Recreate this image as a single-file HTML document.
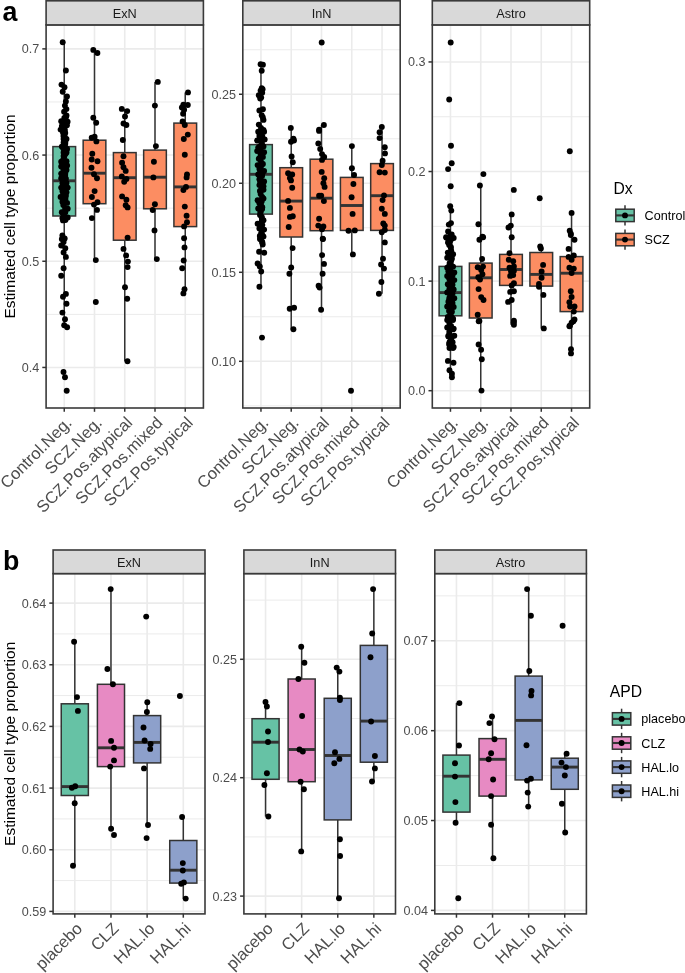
<!DOCTYPE html><html><head><meta charset="utf-8"><style>html,body{margin:0;padding:0;background:#fff;}svg{display:block;will-change:transform;}</style></head><body><svg width="685" height="973" viewBox="0 0 685 973">
<rect width="685" height="973" fill="#fff"/>
<line x1="46.1" x2="203.4" y1="314.36" y2="314.36" stroke="#ebebeb" stroke-width="1.0"/>
<line x1="46.1" x2="203.4" y1="208.16" y2="208.16" stroke="#ebebeb" stroke-width="1.0"/>
<line x1="46.1" x2="203.4" y1="101.97" y2="101.97" stroke="#ebebeb" stroke-width="1.0"/>
<line x1="46.1" x2="203.4" y1="367.45" y2="367.45" stroke="#ebebeb" stroke-width="1.6"/>
<line x1="46.1" x2="203.4" y1="261.26" y2="261.26" stroke="#ebebeb" stroke-width="1.6"/>
<line x1="46.1" x2="203.4" y1="155.07" y2="155.07" stroke="#ebebeb" stroke-width="1.6"/>
<line x1="46.1" x2="203.4" y1="48.88" y2="48.88" stroke="#ebebeb" stroke-width="1.6"/>
<line x1="64.25" x2="64.25" y1="24.9" y2="408.0" stroke="#ebebeb" stroke-width="1.6"/>
<line x1="94.50" x2="94.50" y1="24.9" y2="408.0" stroke="#ebebeb" stroke-width="1.6"/>
<line x1="124.75" x2="124.75" y1="24.9" y2="408.0" stroke="#ebebeb" stroke-width="1.6"/>
<line x1="155.00" x2="155.00" y1="24.9" y2="408.0" stroke="#ebebeb" stroke-width="1.6"/>
<line x1="185.25" x2="185.25" y1="24.9" y2="408.0" stroke="#ebebeb" stroke-width="1.6"/>
<line x1="64.25" x2="64.25" y1="42.3" y2="146.6" stroke="#333333" stroke-width="1.5"/>
<line x1="64.25" x2="64.25" y1="216.0" y2="327.0" stroke="#333333" stroke-width="1.5"/>
<rect x="52.91" y="146.6" width="22.69" height="69.40" fill="#66c2a5" stroke="#333333" stroke-width="1.5"/>
<line x1="52.91" x2="75.59" y1="180.8" y2="180.8" stroke="#333333" stroke-width="2.9"/>
<line x1="94.50" x2="94.50" y1="49.9" y2="140.2" stroke="#333333" stroke-width="1.5"/>
<line x1="94.50" x2="94.50" y1="203.7" y2="260.1" stroke="#333333" stroke-width="1.5"/>
<rect x="83.16" y="140.2" width="22.69" height="63.50" fill="#fc8d62" stroke="#333333" stroke-width="1.5"/>
<line x1="83.16" x2="105.84" y1="173.2" y2="173.2" stroke="#333333" stroke-width="2.9"/>
<line x1="124.75" x2="124.75" y1="108.9" y2="152.6" stroke="#333333" stroke-width="1.5"/>
<line x1="124.75" x2="124.75" y1="240.2" y2="361.2" stroke="#333333" stroke-width="1.5"/>
<rect x="113.41" y="152.6" width="22.69" height="87.60" fill="#fc8d62" stroke="#333333" stroke-width="1.5"/>
<line x1="113.41" x2="136.09" y1="177.7" y2="177.7" stroke="#333333" stroke-width="2.9"/>
<line x1="155.00" x2="155.00" y1="81.9" y2="150.1" stroke="#333333" stroke-width="1.5"/>
<line x1="155.00" x2="155.00" y1="208.8" y2="259.1" stroke="#333333" stroke-width="1.5"/>
<rect x="143.66" y="150.1" width="22.69" height="58.70" fill="#fc8d62" stroke="#333333" stroke-width="1.5"/>
<line x1="143.66" x2="166.34" y1="177.2" y2="177.2" stroke="#333333" stroke-width="2.9"/>
<line x1="185.25" x2="185.25" y1="92.4" y2="123.1" stroke="#333333" stroke-width="1.5"/>
<line x1="185.25" x2="185.25" y1="226.6" y2="293.4" stroke="#333333" stroke-width="1.5"/>
<rect x="173.91" y="123.1" width="22.69" height="103.50" fill="#fc8d62" stroke="#333333" stroke-width="1.5"/>
<line x1="173.91" x2="196.59" y1="186.9" y2="186.9" stroke="#333333" stroke-width="2.9"/>
<circle cx="62.7" cy="42.3" r="2.95"/>
<circle cx="65.9" cy="70.5" r="2.95"/>
<circle cx="61.5" cy="84.6" r="2.95"/>
<circle cx="64.5" cy="87.2" r="2.95"/>
<circle cx="62.7" cy="91.8" r="2.95"/>
<circle cx="67.0" cy="96.5" r="2.95"/>
<circle cx="65.9" cy="101.5" r="2.95"/>
<circle cx="64.9" cy="105.6" r="2.95"/>
<circle cx="66.4" cy="109.1" r="2.95"/>
<circle cx="64.1" cy="111.8" r="2.95"/>
<circle cx="65.9" cy="117.3" r="2.95"/>
<circle cx="66.5" cy="115.5" r="2.95"/>
<circle cx="61.2" cy="121.3" r="2.95"/>
<circle cx="67.6" cy="121.8" r="2.95"/>
<circle cx="61.8" cy="126.1" r="2.95"/>
<circle cx="66.9" cy="125.3" r="2.95"/>
<circle cx="60.6" cy="129.6" r="2.95"/>
<circle cx="63" cy="132.6" r="2.95"/>
<circle cx="64.7" cy="136.7" r="2.95"/>
<circle cx="66.5" cy="139" r="2.95"/>
<circle cx="63.6" cy="142.5" r="2.95"/>
<circle cx="65.3" cy="143.7" r="2.95"/>
<circle cx="61.8" cy="146.6" r="2.95"/>
<circle cx="67.1" cy="149" r="2.95"/>
<circle cx="63.6" cy="152.5" r="2.95"/>
<circle cx="66.5" cy="152.5" r="2.95"/>
<circle cx="63.6" cy="156" r="2.95"/>
<circle cx="61.2" cy="161.8" r="2.95"/>
<circle cx="66.5" cy="161.3" r="2.95"/>
<circle cx="61.2" cy="166.5" r="2.95"/>
<circle cx="67.1" cy="165.4" r="2.95"/>
<circle cx="63.6" cy="170" r="2.95"/>
<circle cx="66.5" cy="170" r="2.95"/>
<circle cx="61.2" cy="173.6" r="2.95"/>
<circle cx="65.3" cy="173" r="2.95"/>
<circle cx="61.2" cy="178.3" r="2.95"/>
<circle cx="65.9" cy="178.8" r="2.95"/>
<circle cx="62.4" cy="183" r="2.95"/>
<circle cx="66.5" cy="183" r="2.95"/>
<circle cx="61.2" cy="187.6" r="2.95"/>
<circle cx="67.7" cy="187.6" r="2.95"/>
<circle cx="62.4" cy="191.1" r="2.95"/>
<circle cx="66.5" cy="192.3" r="2.95"/>
<circle cx="60.6" cy="197" r="2.95"/>
<circle cx="65.9" cy="195.8" r="2.95"/>
<circle cx="62.4" cy="201.7" r="2.95"/>
<circle cx="67.1" cy="202.9" r="2.95"/>
<circle cx="67.7" cy="208.7" r="2.95"/>
<circle cx="61.8" cy="212.2" r="2.95"/>
<circle cx="65.3" cy="212.2" r="2.95"/>
<circle cx="62.4" cy="218.1" r="2.95"/>
<circle cx="67.7" cy="217.5" r="2.95"/>
<circle cx="63" cy="220.4" r="2.95"/>
<circle cx="62.4" cy="235.5" r="2.95"/>
<circle cx="64.7" cy="238.5" r="2.95"/>
<circle cx="61.8" cy="239.1" r="2.95"/>
<circle cx="63.6" cy="242" r="2.95"/>
<circle cx="61.2" cy="245.5" r="2.95"/>
<circle cx="65.3" cy="248.2" r="2.95"/>
<circle cx="63.6" cy="252.5" r="2.95"/>
<circle cx="65.9" cy="256.9" r="2.95"/>
<circle cx="63.6" cy="268.3" r="2.95"/>
<circle cx="61.2" cy="275.7" r="2.95"/>
<circle cx="65.9" cy="293.9" r="2.95"/>
<circle cx="63" cy="296.7" r="2.95"/>
<circle cx="66.5" cy="303.7" r="2.95"/>
<circle cx="62.4" cy="312.6" r="2.95"/>
<circle cx="65" cy="319.3" r="2.95"/>
<circle cx="64.2" cy="325.2" r="2.95"/>
<circle cx="67.1" cy="327.2" r="2.95"/>
<circle cx="63.5" cy="372" r="2.95"/>
<circle cx="65" cy="377.3" r="2.95"/>
<circle cx="66.7" cy="390.7" r="2.95"/>
<circle cx="93.3" cy="49.9" r="2.95"/>
<circle cx="97.4" cy="53.0" r="2.95"/>
<circle cx="93.3" cy="117.8" r="2.95"/>
<circle cx="96.2" cy="122.8" r="2.95"/>
<circle cx="91.7" cy="137.8" r="2.95"/>
<circle cx="94.6" cy="136.7" r="2.95"/>
<circle cx="96.4" cy="141.4" r="2.95"/>
<circle cx="92.3" cy="153.7" r="2.95"/>
<circle cx="91.7" cy="159.5" r="2.95"/>
<circle cx="97.5" cy="161.3" r="2.95"/>
<circle cx="91.5" cy="167.7" r="2.95"/>
<circle cx="94" cy="174.2" r="2.95"/>
<circle cx="97" cy="178.3" r="2.95"/>
<circle cx="94.6" cy="191.1" r="2.95"/>
<circle cx="91.9" cy="197" r="2.95"/>
<circle cx="94" cy="204.6" r="2.95"/>
<circle cx="97.5" cy="202.3" r="2.95"/>
<circle cx="97" cy="209.9" r="2.95"/>
<circle cx="91.9" cy="218.1" r="2.95"/>
<circle cx="95.8" cy="260.1" r="2.95"/>
<circle cx="95.8" cy="302" r="2.95"/>
<circle cx="121.8" cy="108.9" r="2.95"/>
<circle cx="127.2" cy="111.1" r="2.95"/>
<circle cx="125" cy="116.5" r="2.95"/>
<circle cx="123.5" cy="123.5" r="2.95"/>
<circle cx="126.4" cy="125" r="2.95"/>
<circle cx="122.8" cy="140" r="2.95"/>
<circle cx="123.5" cy="156.3" r="2.95"/>
<circle cx="122.1" cy="162.8" r="2.95"/>
<circle cx="123.5" cy="167.2" r="2.95"/>
<circle cx="125.7" cy="170.9" r="2.95"/>
<circle cx="121.8" cy="176.4" r="2.95"/>
<circle cx="126.4" cy="178.9" r="2.95"/>
<circle cx="124.2" cy="181.8" r="2.95"/>
<circle cx="122.1" cy="196.4" r="2.95"/>
<circle cx="126.4" cy="199.8" r="2.95"/>
<circle cx="125.7" cy="205.2" r="2.95"/>
<circle cx="127.6" cy="207.4" r="2.95"/>
<circle cx="127.6" cy="237.6" r="2.95"/>
<circle cx="123.5" cy="248.9" r="2.95"/>
<circle cx="126.1" cy="255.4" r="2.95"/>
<circle cx="127.9" cy="261.6" r="2.95"/>
<circle cx="127.6" cy="267.1" r="2.95"/>
<circle cx="125" cy="287.3" r="2.95"/>
<circle cx="127.2" cy="298.8" r="2.95"/>
<circle cx="127.5" cy="361.2" r="2.95"/>
<circle cx="157.8" cy="81.9" r="2.95"/>
<circle cx="154.9" cy="105.6" r="2.95"/>
<circle cx="155.9" cy="146.1" r="2.95"/>
<circle cx="153.9" cy="161.8" r="2.95"/>
<circle cx="153.4" cy="177.4" r="2.95"/>
<circle cx="154.9" cy="204.2" r="2.95"/>
<circle cx="152.7" cy="210" r="2.95"/>
<circle cx="154.5" cy="230.4" r="2.95"/>
<circle cx="156.8" cy="259.1" r="2.95"/>
<circle cx="188" cy="92.4" r="2.95"/>
<circle cx="183.4" cy="104.6" r="2.95"/>
<circle cx="187.8" cy="105" r="2.95"/>
<circle cx="181.9" cy="107.5" r="2.95"/>
<circle cx="184.1" cy="109.7" r="2.95"/>
<circle cx="183.1" cy="113.8" r="2.95"/>
<circle cx="182.6" cy="121.4" r="2.95"/>
<circle cx="184.8" cy="125" r="2.95"/>
<circle cx="187.8" cy="134.6" r="2.95"/>
<circle cx="183.8" cy="139" r="2.95"/>
<circle cx="184.8" cy="154.8" r="2.95"/>
<circle cx="187" cy="174.5" r="2.95"/>
<circle cx="186.6" cy="177.4" r="2.95"/>
<circle cx="186" cy="186.9" r="2.95"/>
<circle cx="183.4" cy="190.1" r="2.95"/>
<circle cx="184.8" cy="206.6" r="2.95"/>
<circle cx="186.6" cy="215.8" r="2.95"/>
<circle cx="187" cy="222.3" r="2.95"/>
<circle cx="184.1" cy="226.4" r="2.95"/>
<circle cx="184.1" cy="238.3" r="2.95"/>
<circle cx="184.5" cy="247.4" r="2.95"/>
<circle cx="183.7" cy="260.5" r="2.95"/>
<circle cx="182.2" cy="268.3" r="2.95"/>
<circle cx="184.5" cy="289.3" r="2.95"/>
<circle cx="183.4" cy="293.4" r="2.95"/>
<circle cx="64.3" cy="118" r="2.95"/>
<circle cx="65.49" cy="121.0" r="2.95"/>
<circle cx="63.99" cy="124.0" r="2.95"/>
<circle cx="63.19" cy="127.0" r="2.95"/>
<circle cx="64.89" cy="130.0" r="2.95"/>
<circle cx="65.26" cy="133.0" r="2.95"/>
<circle cx="63.46" cy="136.0" r="2.95"/>
<circle cx="63.56" cy="139.0" r="2.95"/>
<circle cx="65.33" cy="142.0" r="2.95"/>
<circle cx="64.78" cy="145.0" r="2.95"/>
<circle cx="63.15" cy="148.0" r="2.95"/>
<circle cx="64.12" cy="151.0" r="2.95"/>
<circle cx="65.5" cy="154.0" r="2.95"/>
<circle cx="64.17" cy="157.0" r="2.95"/>
<circle cx="63.13" cy="160.0" r="2.95"/>
<circle cx="64.73" cy="163.0" r="2.95"/>
<circle cx="65.36" cy="166.0" r="2.95"/>
<circle cx="63.6" cy="169.0" r="2.95"/>
<circle cx="63.43" cy="172.0" r="2.95"/>
<circle cx="65.23" cy="175.0" r="2.95"/>
<circle cx="64.93" cy="178.0" r="2.95"/>
<circle cx="63.21" cy="181.0" r="2.95"/>
<circle cx="63.95" cy="184.0" r="2.95"/>
<circle cx="65.48" cy="187.0" r="2.95"/>
<circle cx="64.35" cy="190.0" r="2.95"/>
<circle cx="63.1" cy="193.0" r="2.95"/>
<circle cx="64.56" cy="196.0" r="2.95"/>
<circle cx="65.43" cy="199.0" r="2.95"/>
<circle cx="63.75" cy="202.0" r="2.95"/>
<circle cx="63.31" cy="205.0" r="2.95"/>
<circle cx="65.1" cy="208.0" r="2.95"/>
<circle cx="65.08" cy="211.0" r="2.95"/>
<circle cx="63.29" cy="214.0" r="2.95"/>
<circle cx="63.78" cy="217.0" r="2.95"/>
<circle cx="65.44" cy="220.0" r="2.95"/>
<rect x="46.1" y="24.9" width="157.30" height="383.10" fill="none" stroke="#3a3a3a" stroke-width="1.6"/>
<rect x="46.1" y="0.8" width="157.30" height="24.10" fill="#d9d9d9" stroke="#3a3a3a" stroke-width="1.6"/>
<text x="124.75" y="17.70" font-family="Liberation Sans, sans-serif" font-size="12.7" fill="#1a1a1a" text-anchor="middle">ExN</text>
<line x1="42.30" x2="46.1" y1="367.45" y2="367.45" stroke="#333333" stroke-width="1.5"/>
<text x="39.30" y="371.95" font-family="Liberation Sans, sans-serif" font-size="12.6" fill="#4d4d4d" text-anchor="end">0.4</text>
<line x1="42.30" x2="46.1" y1="261.26" y2="261.26" stroke="#333333" stroke-width="1.5"/>
<text x="39.30" y="265.76" font-family="Liberation Sans, sans-serif" font-size="12.6" fill="#4d4d4d" text-anchor="end">0.5</text>
<line x1="42.30" x2="46.1" y1="155.07" y2="155.07" stroke="#333333" stroke-width="1.5"/>
<text x="39.30" y="159.57" font-family="Liberation Sans, sans-serif" font-size="12.6" fill="#4d4d4d" text-anchor="end">0.6</text>
<line x1="42.30" x2="46.1" y1="48.88" y2="48.88" stroke="#333333" stroke-width="1.5"/>
<text x="39.30" y="53.38" font-family="Liberation Sans, sans-serif" font-size="12.6" fill="#4d4d4d" text-anchor="end">0.7</text>
<line x1="64.25" x2="64.25" y1="408.0" y2="411.80" stroke="#333333" stroke-width="1.5"/>
<text transform="translate(72.85,423.70) rotate(-45)" font-family="Liberation Sans, sans-serif" font-size="16.6" fill="#4d4d4d" text-anchor="end">Control.Neg.</text>
<line x1="94.50" x2="94.50" y1="408.0" y2="411.80" stroke="#333333" stroke-width="1.5"/>
<text transform="translate(103.10,423.70) rotate(-45)" font-family="Liberation Sans, sans-serif" font-size="16.6" fill="#4d4d4d" text-anchor="end">SCZ.Neg.</text>
<line x1="124.75" x2="124.75" y1="408.0" y2="411.80" stroke="#333333" stroke-width="1.5"/>
<text transform="translate(133.35,423.70) rotate(-45)" font-family="Liberation Sans, sans-serif" font-size="16.6" fill="#4d4d4d" text-anchor="end">SCZ.Pos.atypical</text>
<line x1="155.00" x2="155.00" y1="408.0" y2="411.80" stroke="#333333" stroke-width="1.5"/>
<text transform="translate(163.60,423.70) rotate(-45)" font-family="Liberation Sans, sans-serif" font-size="16.6" fill="#4d4d4d" text-anchor="end">SCZ.Pos.mixed</text>
<line x1="185.25" x2="185.25" y1="408.0" y2="411.80" stroke="#333333" stroke-width="1.5"/>
<text transform="translate(193.85,423.70) rotate(-45)" font-family="Liberation Sans, sans-serif" font-size="16.6" fill="#4d4d4d" text-anchor="end">SCZ.Pos.typical</text>
<line x1="242.8" x2="400.2" y1="405.81" y2="405.81" stroke="#ebebeb" stroke-width="1.0"/>
<line x1="242.8" x2="400.2" y1="316.79" y2="316.79" stroke="#ebebeb" stroke-width="1.0"/>
<line x1="242.8" x2="400.2" y1="227.78" y2="227.78" stroke="#ebebeb" stroke-width="1.0"/>
<line x1="242.8" x2="400.2" y1="138.76" y2="138.76" stroke="#ebebeb" stroke-width="1.0"/>
<line x1="242.8" x2="400.2" y1="49.75" y2="49.75" stroke="#ebebeb" stroke-width="1.0"/>
<line x1="242.8" x2="400.2" y1="361.30" y2="361.30" stroke="#ebebeb" stroke-width="1.6"/>
<line x1="242.8" x2="400.2" y1="272.29" y2="272.29" stroke="#ebebeb" stroke-width="1.6"/>
<line x1="242.8" x2="400.2" y1="183.27" y2="183.27" stroke="#ebebeb" stroke-width="1.6"/>
<line x1="242.8" x2="400.2" y1="94.26" y2="94.26" stroke="#ebebeb" stroke-width="1.6"/>
<line x1="260.96" x2="260.96" y1="24.9" y2="408.0" stroke="#ebebeb" stroke-width="1.6"/>
<line x1="291.23" x2="291.23" y1="24.9" y2="408.0" stroke="#ebebeb" stroke-width="1.6"/>
<line x1="321.50" x2="321.50" y1="24.9" y2="408.0" stroke="#ebebeb" stroke-width="1.6"/>
<line x1="351.77" x2="351.77" y1="24.9" y2="408.0" stroke="#ebebeb" stroke-width="1.6"/>
<line x1="382.04" x2="382.04" y1="24.9" y2="408.0" stroke="#ebebeb" stroke-width="1.6"/>
<line x1="260.96" x2="260.96" y1="64.2" y2="144.6" stroke="#333333" stroke-width="1.5"/>
<line x1="260.96" x2="260.96" y1="214.1" y2="286.8" stroke="#333333" stroke-width="1.5"/>
<rect x="249.61" y="144.6" width="22.70" height="69.50" fill="#66c2a5" stroke="#333333" stroke-width="1.5"/>
<line x1="249.61" x2="272.31" y1="174.3" y2="174.3" stroke="#333333" stroke-width="2.9"/>
<line x1="291.23" x2="291.23" y1="127.9" y2="167.7" stroke="#333333" stroke-width="1.5"/>
<line x1="291.23" x2="291.23" y1="237.0" y2="329.2" stroke="#333333" stroke-width="1.5"/>
<rect x="279.88" y="167.7" width="22.70" height="69.30" fill="#fc8d62" stroke="#333333" stroke-width="1.5"/>
<line x1="279.88" x2="302.58" y1="201.1" y2="201.1" stroke="#333333" stroke-width="2.9"/>
<line x1="321.50" x2="321.50" y1="125.0" y2="159.2" stroke="#333333" stroke-width="1.5"/>
<line x1="321.50" x2="321.50" y1="230.7" y2="309.7" stroke="#333333" stroke-width="1.5"/>
<rect x="310.15" y="159.2" width="22.70" height="71.50" fill="#fc8d62" stroke="#333333" stroke-width="1.5"/>
<line x1="310.15" x2="332.85" y1="198.2" y2="198.2" stroke="#333333" stroke-width="2.9"/>
<line x1="351.77" x2="351.77" y1="146.1" y2="177.4" stroke="#333333" stroke-width="1.5"/>
<line x1="351.77" x2="351.77" y1="230.4" y2="254.4" stroke="#333333" stroke-width="1.5"/>
<rect x="340.42" y="177.4" width="22.70" height="53.00" fill="#fc8d62" stroke="#333333" stroke-width="1.5"/>
<line x1="340.42" x2="363.12" y1="205.5" y2="205.5" stroke="#333333" stroke-width="2.9"/>
<line x1="382.04" x2="382.04" y1="126.9" y2="163.6" stroke="#333333" stroke-width="1.5"/>
<line x1="382.04" x2="382.04" y1="230.4" y2="293.8" stroke="#333333" stroke-width="1.5"/>
<rect x="370.69" y="163.6" width="22.70" height="66.80" fill="#fc8d62" stroke="#333333" stroke-width="1.5"/>
<line x1="370.69" x2="393.39" y1="195.7" y2="195.7" stroke="#333333" stroke-width="2.9"/>
<circle cx="260.6" cy="64.2" r="2.95"/>
<circle cx="262.9" cy="64.8" r="2.95"/>
<circle cx="261.7" cy="70.7" r="2.95"/>
<circle cx="261.7" cy="88.3" r="2.95"/>
<circle cx="260.6" cy="90.6" r="2.95"/>
<circle cx="258.8" cy="95.3" r="2.95"/>
<circle cx="261.2" cy="97.6" r="2.95"/>
<circle cx="259.4" cy="110.5" r="2.95"/>
<circle cx="262.9" cy="109.3" r="2.95"/>
<circle cx="261.7" cy="115.2" r="2.95"/>
<circle cx="263.5" cy="119.9" r="2.95"/>
<circle cx="258.8" cy="124.6" r="2.95"/>
<circle cx="263.5" cy="129.9" r="2.95"/>
<circle cx="259.4" cy="132.8" r="2.95"/>
<circle cx="262.3" cy="136.3" r="2.95"/>
<circle cx="258.2" cy="131.8" r="2.95"/>
<circle cx="264.1" cy="131.8" r="2.95"/>
<circle cx="259.4" cy="135.9" r="2.95"/>
<circle cx="264.7" cy="139.4" r="2.95"/>
<circle cx="257.1" cy="140.5" r="2.95"/>
<circle cx="261.7" cy="139.5" r="2.95"/>
<circle cx="258.2" cy="147.6" r="2.95"/>
<circle cx="263.5" cy="146.4" r="2.95"/>
<circle cx="257.1" cy="151.1" r="2.95"/>
<circle cx="264.1" cy="152.3" r="2.95"/>
<circle cx="260.6" cy="154.6" r="2.95"/>
<circle cx="262.9" cy="156.9" r="2.95"/>
<circle cx="258.8" cy="158.7" r="2.95"/>
<circle cx="257.6" cy="165.1" r="2.95"/>
<circle cx="262.9" cy="164" r="2.95"/>
<circle cx="259.4" cy="168.7" r="2.95"/>
<circle cx="264.1" cy="171" r="2.95"/>
<circle cx="258.2" cy="174.5" r="2.95"/>
<circle cx="262.3" cy="173.9" r="2.95"/>
<circle cx="259.4" cy="179.2" r="2.95"/>
<circle cx="264.1" cy="181.5" r="2.95"/>
<circle cx="259.4" cy="185.1" r="2.95"/>
<circle cx="263.5" cy="186.2" r="2.95"/>
<circle cx="260.6" cy="190.9" r="2.95"/>
<circle cx="263.5" cy="189.7" r="2.95"/>
<circle cx="257.6" cy="200.3" r="2.95"/>
<circle cx="263.5" cy="198.5" r="2.95"/>
<circle cx="259.4" cy="203.2" r="2.95"/>
<circle cx="261.7" cy="201.5" r="2.95"/>
<circle cx="258.2" cy="208.5" r="2.95"/>
<circle cx="262.3" cy="207.3" r="2.95"/>
<circle cx="260.6" cy="212" r="2.95"/>
<circle cx="261.7" cy="216.7" r="2.95"/>
<circle cx="263.5" cy="220.2" r="2.95"/>
<circle cx="257.6" cy="223.7" r="2.95"/>
<circle cx="262.3" cy="224.9" r="2.95"/>
<circle cx="259.4" cy="228.4" r="2.95"/>
<circle cx="264.1" cy="229.6" r="2.95"/>
<circle cx="261.7" cy="233.1" r="2.95"/>
<circle cx="260" cy="239" r="2.95"/>
<circle cx="263.5" cy="236.6" r="2.95"/>
<circle cx="262.3" cy="242.5" r="2.95"/>
<circle cx="262.7" cy="235.7" r="2.95"/>
<circle cx="260.5" cy="239.1" r="2.95"/>
<circle cx="262.7" cy="244.5" r="2.95"/>
<circle cx="259.1" cy="251.8" r="2.95"/>
<circle cx="264.2" cy="252.8" r="2.95"/>
<circle cx="257.6" cy="263.5" r="2.95"/>
<circle cx="259.8" cy="266.4" r="2.95"/>
<circle cx="261.2" cy="271.5" r="2.95"/>
<circle cx="259.4" cy="286.8" r="2.95"/>
<circle cx="262" cy="337.6" r="2.95"/>
<circle cx="290.8" cy="127.9" r="2.95"/>
<circle cx="293.4" cy="138.6" r="2.95"/>
<circle cx="291" cy="141.7" r="2.95"/>
<circle cx="294" cy="140.5" r="2.95"/>
<circle cx="291.6" cy="156.4" r="2.95"/>
<circle cx="292.8" cy="162.2" r="2.95"/>
<circle cx="288.1" cy="173.3" r="2.95"/>
<circle cx="292.2" cy="174.5" r="2.95"/>
<circle cx="289.9" cy="178" r="2.95"/>
<circle cx="291" cy="180.4" r="2.95"/>
<circle cx="292.2" cy="187.8" r="2.95"/>
<circle cx="288.1" cy="200.9" r="2.95"/>
<circle cx="289.9" cy="207.9" r="2.95"/>
<circle cx="289.9" cy="216.9" r="2.95"/>
<circle cx="292.8" cy="216.3" r="2.95"/>
<circle cx="288.7" cy="227" r="2.95"/>
<circle cx="292.6" cy="248.1" r="2.95"/>
<circle cx="291.2" cy="267.4" r="2.95"/>
<circle cx="289.4" cy="273.7" r="2.95"/>
<circle cx="289.7" cy="308.7" r="2.95"/>
<circle cx="294.1" cy="307.7" r="2.95"/>
<circle cx="293.4" cy="329.2" r="2.95"/>
<circle cx="321.7" cy="42.5" r="2.95"/>
<circle cx="323.9" cy="125" r="2.95"/>
<circle cx="319.1" cy="129.8" r="2.95"/>
<circle cx="319.1" cy="130.9" r="2.95"/>
<circle cx="318.3" cy="143.4" r="2.95"/>
<circle cx="320.2" cy="149" r="2.95"/>
<circle cx="322" cy="154.1" r="2.95"/>
<circle cx="324.2" cy="157" r="2.95"/>
<circle cx="322" cy="159.9" r="2.95"/>
<circle cx="321.7" cy="171.9" r="2.95"/>
<circle cx="324.2" cy="178.2" r="2.95"/>
<circle cx="323.4" cy="183.3" r="2.95"/>
<circle cx="324.6" cy="186.9" r="2.95"/>
<circle cx="319.1" cy="195.7" r="2.95"/>
<circle cx="321.2" cy="195.7" r="2.95"/>
<circle cx="323.9" cy="201.1" r="2.95"/>
<circle cx="319.1" cy="218.8" r="2.95"/>
<circle cx="318.3" cy="225.6" r="2.95"/>
<circle cx="323.4" cy="226.4" r="2.95"/>
<circle cx="322" cy="229.3" r="2.95"/>
<circle cx="322.7" cy="238.8" r="2.95"/>
<circle cx="323" cy="239.1" r="2.95"/>
<circle cx="322.1" cy="255.1" r="2.95"/>
<circle cx="324" cy="263.9" r="2.95"/>
<circle cx="322.6" cy="273.7" r="2.95"/>
<circle cx="318.6" cy="285.8" r="2.95"/>
<circle cx="319.6" cy="287.6" r="2.95"/>
<circle cx="321.1" cy="309.7" r="2.95"/>
<circle cx="351.9" cy="146.1" r="2.95"/>
<circle cx="351.9" cy="168.2" r="2.95"/>
<circle cx="354.1" cy="175" r="2.95"/>
<circle cx="353.4" cy="184" r="2.95"/>
<circle cx="351.6" cy="197.2" r="2.95"/>
<circle cx="352.6" cy="213.9" r="2.95"/>
<circle cx="348.5" cy="230.7" r="2.95"/>
<circle cx="354.8" cy="230.4" r="2.95"/>
<circle cx="352.9" cy="254.4" r="2.95"/>
<circle cx="351" cy="390.7" r="2.95"/>
<circle cx="381.8" cy="126.9" r="2.95"/>
<circle cx="379.6" cy="132.3" r="2.95"/>
<circle cx="379.6" cy="138.1" r="2.95"/>
<circle cx="384.8" cy="147.2" r="2.95"/>
<circle cx="385" cy="153.4" r="2.95"/>
<circle cx="382.6" cy="160.7" r="2.95"/>
<circle cx="381.8" cy="165" r="2.95"/>
<circle cx="379.6" cy="172.3" r="2.95"/>
<circle cx="384.8" cy="172.6" r="2.95"/>
<circle cx="384" cy="195.4" r="2.95"/>
<circle cx="382.6" cy="200.1" r="2.95"/>
<circle cx="381.8" cy="208.8" r="2.95"/>
<circle cx="384.8" cy="213.9" r="2.95"/>
<circle cx="383.3" cy="223.4" r="2.95"/>
<circle cx="384.8" cy="225.6" r="2.95"/>
<circle cx="384.8" cy="230" r="2.95"/>
<circle cx="381.8" cy="232.2" r="2.95"/>
<circle cx="384.8" cy="242.4" r="2.95"/>
<circle cx="383" cy="258.8" r="2.95"/>
<circle cx="381.1" cy="264.5" r="2.95"/>
<circle cx="384" cy="268.6" r="2.95"/>
<circle cx="381.4" cy="282" r="2.95"/>
<circle cx="378.9" cy="293.8" r="2.95"/>
<circle cx="261.0" cy="128" r="2.95"/>
<circle cx="262.19" cy="131.0" r="2.95"/>
<circle cx="260.69" cy="134.0" r="2.95"/>
<circle cx="259.89" cy="137.0" r="2.95"/>
<circle cx="261.59" cy="140.0" r="2.95"/>
<circle cx="261.96" cy="143.0" r="2.95"/>
<circle cx="260.16" cy="146.0" r="2.95"/>
<circle cx="260.26" cy="149.0" r="2.95"/>
<circle cx="262.03" cy="152.0" r="2.95"/>
<circle cx="261.48" cy="155.0" r="2.95"/>
<circle cx="259.85" cy="158.0" r="2.95"/>
<circle cx="260.82" cy="161.0" r="2.95"/>
<circle cx="262.2" cy="164.0" r="2.95"/>
<circle cx="260.87" cy="167.0" r="2.95"/>
<circle cx="259.83" cy="170.0" r="2.95"/>
<circle cx="261.43" cy="173.0" r="2.95"/>
<circle cx="262.06" cy="176.0" r="2.95"/>
<circle cx="260.3" cy="179.0" r="2.95"/>
<circle cx="260.13" cy="182.0" r="2.95"/>
<circle cx="261.93" cy="185.0" r="2.95"/>
<circle cx="261.63" cy="188.0" r="2.95"/>
<circle cx="259.91" cy="191.0" r="2.95"/>
<circle cx="260.65" cy="194.0" r="2.95"/>
<circle cx="262.18" cy="197.0" r="2.95"/>
<circle cx="261.05" cy="200.0" r="2.95"/>
<circle cx="259.8" cy="203.0" r="2.95"/>
<circle cx="261.26" cy="206.0" r="2.95"/>
<circle cx="262.13" cy="209.0" r="2.95"/>
<circle cx="260.45" cy="212.0" r="2.95"/>
<circle cx="260.01" cy="215.0" r="2.95"/>
<circle cx="261.8" cy="218.0" r="2.95"/>
<circle cx="261.78" cy="221.0" r="2.95"/>
<circle cx="259.99" cy="224.0" r="2.95"/>
<circle cx="260.48" cy="227.0" r="2.95"/>
<circle cx="262.14" cy="230.0" r="2.95"/>
<circle cx="261.23" cy="233.0" r="2.95"/>
<circle cx="259.8" cy="236.0" r="2.95"/>
<circle cx="261.08" cy="239.0" r="2.95"/>
<circle cx="262.18" cy="242.0" r="2.95"/>
<circle cx="262.6" cy="89.2" r="2.95"/>
<circle cx="262.2" cy="92.8" r="2.95"/>
<circle cx="260.2" cy="98.6" r="2.95"/>
<circle cx="262.8" cy="117.3" r="2.95"/>
<rect x="242.8" y="24.9" width="157.40" height="383.10" fill="none" stroke="#3a3a3a" stroke-width="1.6"/>
<rect x="242.8" y="0.8" width="157.40" height="24.10" fill="#d9d9d9" stroke="#3a3a3a" stroke-width="1.6"/>
<text x="321.50" y="17.70" font-family="Liberation Sans, sans-serif" font-size="12.7" fill="#1a1a1a" text-anchor="middle">InN</text>
<line x1="239.00" x2="242.8" y1="361.30" y2="361.30" stroke="#333333" stroke-width="1.5"/>
<text x="236.00" y="365.80" font-family="Liberation Sans, sans-serif" font-size="12.6" fill="#4d4d4d" text-anchor="end">0.10</text>
<line x1="239.00" x2="242.8" y1="272.29" y2="272.29" stroke="#333333" stroke-width="1.5"/>
<text x="236.00" y="276.79" font-family="Liberation Sans, sans-serif" font-size="12.6" fill="#4d4d4d" text-anchor="end">0.15</text>
<line x1="239.00" x2="242.8" y1="183.27" y2="183.27" stroke="#333333" stroke-width="1.5"/>
<text x="236.00" y="187.77" font-family="Liberation Sans, sans-serif" font-size="12.6" fill="#4d4d4d" text-anchor="end">0.20</text>
<line x1="239.00" x2="242.8" y1="94.26" y2="94.26" stroke="#333333" stroke-width="1.5"/>
<text x="236.00" y="98.76" font-family="Liberation Sans, sans-serif" font-size="12.6" fill="#4d4d4d" text-anchor="end">0.25</text>
<line x1="260.96" x2="260.96" y1="408.0" y2="411.80" stroke="#333333" stroke-width="1.5"/>
<text transform="translate(269.56,423.70) rotate(-45)" font-family="Liberation Sans, sans-serif" font-size="16.6" fill="#4d4d4d" text-anchor="end">Control.Neg.</text>
<line x1="291.23" x2="291.23" y1="408.0" y2="411.80" stroke="#333333" stroke-width="1.5"/>
<text transform="translate(299.83,423.70) rotate(-45)" font-family="Liberation Sans, sans-serif" font-size="16.6" fill="#4d4d4d" text-anchor="end">SCZ.Neg.</text>
<line x1="321.50" x2="321.50" y1="408.0" y2="411.80" stroke="#333333" stroke-width="1.5"/>
<text transform="translate(330.10,423.70) rotate(-45)" font-family="Liberation Sans, sans-serif" font-size="16.6" fill="#4d4d4d" text-anchor="end">SCZ.Pos.atypical</text>
<line x1="351.77" x2="351.77" y1="408.0" y2="411.80" stroke="#333333" stroke-width="1.5"/>
<text transform="translate(360.37,423.70) rotate(-45)" font-family="Liberation Sans, sans-serif" font-size="16.6" fill="#4d4d4d" text-anchor="end">SCZ.Pos.mixed</text>
<line x1="382.04" x2="382.04" y1="408.0" y2="411.80" stroke="#333333" stroke-width="1.5"/>
<text transform="translate(390.64,423.70) rotate(-45)" font-family="Liberation Sans, sans-serif" font-size="16.6" fill="#4d4d4d" text-anchor="end">SCZ.Pos.typical</text>
<line x1="432.3" x2="589.7" y1="335.91" y2="335.91" stroke="#ebebeb" stroke-width="1.0"/>
<line x1="432.3" x2="589.7" y1="226.32" y2="226.32" stroke="#ebebeb" stroke-width="1.0"/>
<line x1="432.3" x2="589.7" y1="116.74" y2="116.74" stroke="#ebebeb" stroke-width="1.0"/>
<line x1="432.3" x2="589.7" y1="390.70" y2="390.70" stroke="#ebebeb" stroke-width="1.6"/>
<line x1="432.3" x2="589.7" y1="281.12" y2="281.12" stroke="#ebebeb" stroke-width="1.6"/>
<line x1="432.3" x2="589.7" y1="171.53" y2="171.53" stroke="#ebebeb" stroke-width="1.6"/>
<line x1="432.3" x2="589.7" y1="61.95" y2="61.95" stroke="#ebebeb" stroke-width="1.6"/>
<line x1="450.46" x2="450.46" y1="24.9" y2="408.0" stroke="#ebebeb" stroke-width="1.6"/>
<line x1="480.73" x2="480.73" y1="24.9" y2="408.0" stroke="#ebebeb" stroke-width="1.6"/>
<line x1="511.00" x2="511.00" y1="24.9" y2="408.0" stroke="#ebebeb" stroke-width="1.6"/>
<line x1="541.27" x2="541.27" y1="24.9" y2="408.0" stroke="#ebebeb" stroke-width="1.6"/>
<line x1="571.54" x2="571.54" y1="24.9" y2="408.0" stroke="#ebebeb" stroke-width="1.6"/>
<line x1="450.46" x2="450.46" y1="206.2" y2="266.4" stroke="#333333" stroke-width="1.5"/>
<line x1="450.46" x2="450.46" y1="315.8" y2="377.2" stroke="#333333" stroke-width="1.5"/>
<rect x="439.11" y="266.4" width="22.70" height="49.40" fill="#66c2a5" stroke="#333333" stroke-width="1.5"/>
<line x1="439.11" x2="461.81" y1="292.6" y2="292.6" stroke="#333333" stroke-width="2.9"/>
<line x1="480.73" x2="480.73" y1="185.5" y2="263.1" stroke="#333333" stroke-width="1.5"/>
<line x1="480.73" x2="480.73" y1="318.0" y2="390.6" stroke="#333333" stroke-width="1.5"/>
<rect x="469.38" y="263.1" width="22.70" height="54.90" fill="#fc8d62" stroke="#333333" stroke-width="1.5"/>
<line x1="469.38" x2="492.08" y1="277.8" y2="277.8" stroke="#333333" stroke-width="2.9"/>
<line x1="511.00" x2="511.00" y1="214.4" y2="254.4" stroke="#333333" stroke-width="1.5"/>
<line x1="511.00" x2="511.00" y1="285.4" y2="324.8" stroke="#333333" stroke-width="1.5"/>
<rect x="499.65" y="254.4" width="22.70" height="31.00" fill="#fc8d62" stroke="#333333" stroke-width="1.5"/>
<line x1="499.65" x2="522.35" y1="269.5" y2="269.5" stroke="#333333" stroke-width="2.9"/>
<line x1="541.27" x2="541.27" y1="246.4" y2="252.5" stroke="#333333" stroke-width="1.5"/>
<line x1="541.27" x2="541.27" y1="286.1" y2="328.4" stroke="#333333" stroke-width="1.5"/>
<rect x="529.92" y="252.5" width="22.70" height="33.60" fill="#fc8d62" stroke="#333333" stroke-width="1.5"/>
<line x1="529.92" x2="552.62" y1="274.4" y2="274.4" stroke="#333333" stroke-width="2.9"/>
<line x1="571.54" x2="571.54" y1="212.9" y2="256.6" stroke="#333333" stroke-width="1.5"/>
<line x1="571.54" x2="571.54" y1="311.6" y2="353.4" stroke="#333333" stroke-width="1.5"/>
<rect x="560.19" y="256.6" width="22.70" height="55.00" fill="#fc8d62" stroke="#333333" stroke-width="1.5"/>
<line x1="560.19" x2="582.89" y1="273.2" y2="273.2" stroke="#333333" stroke-width="2.9"/>
<circle cx="450.7" cy="42.5" r="2.95"/>
<circle cx="449.2" cy="99.5" r="2.95"/>
<circle cx="451" cy="145.8" r="2.95"/>
<circle cx="451.7" cy="163.3" r="2.95"/>
<circle cx="448.1" cy="169.1" r="2.95"/>
<circle cx="450.7" cy="186.2" r="2.95"/>
<circle cx="450.2" cy="206.2" r="2.95"/>
<circle cx="451.3" cy="210.6" r="2.95"/>
<circle cx="448.8" cy="224.6" r="2.95"/>
<circle cx="451" cy="223.1" r="2.95"/>
<circle cx="448.1" cy="231.5" r="2.95"/>
<circle cx="451.7" cy="234.4" r="2.95"/>
<circle cx="446.6" cy="237.7" r="2.95"/>
<circle cx="452.4" cy="238" r="2.95"/>
<circle cx="448.1" cy="242.4" r="2.95"/>
<circle cx="446.1" cy="237.3" r="2.95"/>
<circle cx="453.7" cy="237.9" r="2.95"/>
<circle cx="448.4" cy="242.6" r="2.95"/>
<circle cx="450.7" cy="246.7" r="2.95"/>
<circle cx="447.8" cy="252.6" r="2.95"/>
<circle cx="453.1" cy="254.3" r="2.95"/>
<circle cx="447.2" cy="257.8" r="2.95"/>
<circle cx="451.9" cy="258.4" r="2.95"/>
<circle cx="449.6" cy="263.1" r="2.95"/>
<circle cx="447.2" cy="267.8" r="2.95"/>
<circle cx="453.1" cy="266.6" r="2.95"/>
<circle cx="448.4" cy="271.3" r="2.95"/>
<circle cx="454.3" cy="272.5" r="2.95"/>
<circle cx="447.2" cy="276" r="2.95"/>
<circle cx="452.5" cy="275.4" r="2.95"/>
<circle cx="449.6" cy="279.5" r="2.95"/>
<circle cx="454.3" cy="280.1" r="2.95"/>
<circle cx="447.8" cy="284.2" r="2.95"/>
<circle cx="452.5" cy="284.8" r="2.95"/>
<circle cx="449.6" cy="288.9" r="2.95"/>
<circle cx="453.7" cy="289.5" r="2.95"/>
<circle cx="447.2" cy="292.4" r="2.95"/>
<circle cx="452.5" cy="293.6" r="2.95"/>
<circle cx="449.6" cy="297.1" r="2.95"/>
<circle cx="454.3" cy="298.3" r="2.95"/>
<circle cx="448.4" cy="301.8" r="2.95"/>
<circle cx="452.5" cy="303" r="2.95"/>
<circle cx="447.2" cy="306.5" r="2.95"/>
<circle cx="453.7" cy="307" r="2.95"/>
<circle cx="449.6" cy="311.1" r="2.95"/>
<circle cx="451.9" cy="311.7" r="2.95"/>
<circle cx="447.8" cy="317" r="2.95"/>
<circle cx="453.1" cy="318.8" r="2.95"/>
<circle cx="447.2" cy="327.5" r="2.95"/>
<circle cx="453.7" cy="328.7" r="2.95"/>
<circle cx="448.4" cy="335.7" r="2.95"/>
<circle cx="454.3" cy="335.7" r="2.95"/>
<circle cx="450.7" cy="340.4" r="2.95"/>
<circle cx="449.6" cy="345.1" r="2.95"/>
<circle cx="453.7" cy="346.9" r="2.95"/>
<circle cx="447.2" cy="320" r="2.95"/>
<circle cx="453" cy="320" r="2.95"/>
<circle cx="453" cy="329.3" r="2.95"/>
<circle cx="448.4" cy="336.4" r="2.95"/>
<circle cx="449.5" cy="342.2" r="2.95"/>
<circle cx="452.6" cy="342.2" r="2.95"/>
<circle cx="449.5" cy="348" r="2.95"/>
<circle cx="453" cy="348" r="2.95"/>
<circle cx="447.9" cy="360.9" r="2.95"/>
<circle cx="453.5" cy="362.8" r="2.95"/>
<circle cx="449.5" cy="370.2" r="2.95"/>
<circle cx="451.9" cy="373.7" r="2.95"/>
<circle cx="451.9" cy="377.2" r="2.95"/>
<circle cx="483.4" cy="174.1" r="2.95"/>
<circle cx="479.9" cy="185.5" r="2.95"/>
<circle cx="478.4" cy="224.2" r="2.95"/>
<circle cx="483.1" cy="237.3" r="2.95"/>
<circle cx="479.4" cy="239.8" r="2.95"/>
<circle cx="482.4" cy="236.8" r="2.95"/>
<circle cx="482.1" cy="259" r="2.95"/>
<circle cx="477.7" cy="267.2" r="2.95"/>
<circle cx="483" cy="266.6" r="2.95"/>
<circle cx="481.2" cy="270.1" r="2.95"/>
<circle cx="482.4" cy="274.2" r="2.95"/>
<circle cx="478.3" cy="277.2" r="2.95"/>
<circle cx="480" cy="279.5" r="2.95"/>
<circle cx="478.6" cy="289.1" r="2.95"/>
<circle cx="481.2" cy="297.1" r="2.95"/>
<circle cx="483.5" cy="300" r="2.95"/>
<circle cx="477.7" cy="314.7" r="2.95"/>
<circle cx="479.4" cy="321.1" r="2.95"/>
<circle cx="478.7" cy="321.2" r="2.95"/>
<circle cx="478.6" cy="344.5" r="2.95"/>
<circle cx="481.1" cy="349.7" r="2.95"/>
<circle cx="481.8" cy="359.3" r="2.95"/>
<circle cx="481.5" cy="390.6" r="2.95"/>
<circle cx="513.8" cy="189.9" r="2.95"/>
<circle cx="511.7" cy="214.4" r="2.95"/>
<circle cx="510.8" cy="225.6" r="2.95"/>
<circle cx="508.5" cy="227.5" r="2.95"/>
<circle cx="511.7" cy="237.3" r="2.95"/>
<circle cx="509.5" cy="253.2" r="2.95"/>
<circle cx="508.8" cy="259.8" r="2.95"/>
<circle cx="513.2" cy="261.3" r="2.95"/>
<circle cx="509.5" cy="267.8" r="2.95"/>
<circle cx="513.9" cy="266.4" r="2.95"/>
<circle cx="511" cy="271.5" r="2.95"/>
<circle cx="513.9" cy="270.8" r="2.95"/>
<circle cx="510.2" cy="275.9" r="2.95"/>
<circle cx="513.2" cy="275.1" r="2.95"/>
<circle cx="513.9" cy="283.2" r="2.95"/>
<circle cx="511.7" cy="285.4" r="2.95"/>
<circle cx="510.2" cy="291.9" r="2.95"/>
<circle cx="513.9" cy="291.2" r="2.95"/>
<circle cx="508.1" cy="301.9" r="2.95"/>
<circle cx="511.7" cy="300" r="2.95"/>
<circle cx="513.9" cy="320.8" r="2.95"/>
<circle cx="513.9" cy="324.8" r="2.95"/>
<circle cx="513.8" cy="322.3" r="2.95"/>
<circle cx="539.7" cy="198.2" r="2.95"/>
<circle cx="540.2" cy="246.4" r="2.95"/>
<circle cx="540.9" cy="248.4" r="2.95"/>
<circle cx="543.1" cy="264.9" r="2.95"/>
<circle cx="541.6" cy="271.5" r="2.95"/>
<circle cx="541.6" cy="277.8" r="2.95"/>
<circle cx="539" cy="283.9" r="2.95"/>
<circle cx="539" cy="286.8" r="2.95"/>
<circle cx="543.4" cy="294.9" r="2.95"/>
<circle cx="543.8" cy="328.4" r="2.95"/>
<circle cx="569.8" cy="151.2" r="2.95"/>
<circle cx="571.6" cy="212.9" r="2.95"/>
<circle cx="569.7" cy="230.7" r="2.95"/>
<circle cx="570.8" cy="233.6" r="2.95"/>
<circle cx="574.5" cy="239.8" r="2.95"/>
<circle cx="570.8" cy="235" r="2.95"/>
<circle cx="568.6" cy="248.9" r="2.95"/>
<circle cx="568.6" cy="256.9" r="2.95"/>
<circle cx="573.8" cy="255.4" r="2.95"/>
<circle cx="571.6" cy="259.8" r="2.95"/>
<circle cx="569.4" cy="267.8" r="2.95"/>
<circle cx="573.8" cy="268.6" r="2.95"/>
<circle cx="571.6" cy="273" r="2.95"/>
<circle cx="570.8" cy="291.2" r="2.95"/>
<circle cx="571.6" cy="297" r="2.95"/>
<circle cx="569.4" cy="302.2" r="2.95"/>
<circle cx="570.1" cy="306.5" r="2.95"/>
<circle cx="574.5" cy="306.5" r="2.95"/>
<circle cx="573.8" cy="311.6" r="2.95"/>
<circle cx="574.5" cy="319.4" r="2.95"/>
<circle cx="571.6" cy="322.6" r="2.95"/>
<circle cx="569.4" cy="326.2" r="2.95"/>
<circle cx="571" cy="349.2" r="2.95"/>
<circle cx="571" cy="353.4" r="2.95"/>
<circle cx="573.4" cy="321.2" r="2.95"/>
<circle cx="569.9" cy="325.8" r="2.95"/>
<circle cx="450.3" cy="236" r="2.95"/>
<circle cx="451.49" cy="239.0" r="2.95"/>
<circle cx="449.99" cy="242.0" r="2.95"/>
<circle cx="449.19" cy="245.0" r="2.95"/>
<circle cx="450.89" cy="248.0" r="2.95"/>
<circle cx="451.26" cy="251.0" r="2.95"/>
<circle cx="449.46" cy="254.0" r="2.95"/>
<circle cx="449.56" cy="257.0" r="2.95"/>
<circle cx="451.33" cy="260.0" r="2.95"/>
<circle cx="450.78" cy="263.0" r="2.95"/>
<circle cx="449.15" cy="266.0" r="2.95"/>
<circle cx="450.12" cy="269.0" r="2.95"/>
<circle cx="451.5" cy="272.0" r="2.95"/>
<circle cx="450.17" cy="275.0" r="2.95"/>
<circle cx="449.13" cy="278.0" r="2.95"/>
<circle cx="450.73" cy="281.0" r="2.95"/>
<circle cx="451.36" cy="284.0" r="2.95"/>
<circle cx="449.6" cy="287.0" r="2.95"/>
<circle cx="449.43" cy="290.0" r="2.95"/>
<circle cx="451.23" cy="293.0" r="2.95"/>
<circle cx="450.93" cy="296.0" r="2.95"/>
<circle cx="449.21" cy="299.0" r="2.95"/>
<circle cx="449.95" cy="302.0" r="2.95"/>
<circle cx="451.48" cy="305.0" r="2.95"/>
<circle cx="450.35" cy="308.0" r="2.95"/>
<circle cx="449.1" cy="311.0" r="2.95"/>
<circle cx="450.56" cy="314.0" r="2.95"/>
<circle cx="451.43" cy="317.0" r="2.95"/>
<circle cx="449.75" cy="320.0" r="2.95"/>
<circle cx="449.31" cy="323.0" r="2.95"/>
<circle cx="451.1" cy="326.0" r="2.95"/>
<circle cx="451.08" cy="329.0" r="2.95"/>
<circle cx="449.29" cy="332.0" r="2.95"/>
<circle cx="449.78" cy="335.0" r="2.95"/>
<circle cx="451.44" cy="338.0" r="2.95"/>
<circle cx="450.53" cy="341.0" r="2.95"/>
<circle cx="449.1" cy="344.0" r="2.95"/>
<circle cx="450.38" cy="347.0" r="2.95"/>
<rect x="432.3" y="24.9" width="157.40" height="383.10" fill="none" stroke="#3a3a3a" stroke-width="1.6"/>
<rect x="432.3" y="0.8" width="157.40" height="24.10" fill="#d9d9d9" stroke="#3a3a3a" stroke-width="1.6"/>
<text x="511.00" y="17.70" font-family="Liberation Sans, sans-serif" font-size="12.7" fill="#1a1a1a" text-anchor="middle">Astro</text>
<line x1="428.50" x2="432.3" y1="390.70" y2="390.70" stroke="#333333" stroke-width="1.5"/>
<text x="425.50" y="395.20" font-family="Liberation Sans, sans-serif" font-size="12.6" fill="#4d4d4d" text-anchor="end">0.0</text>
<line x1="428.50" x2="432.3" y1="281.12" y2="281.12" stroke="#333333" stroke-width="1.5"/>
<text x="425.50" y="285.62" font-family="Liberation Sans, sans-serif" font-size="12.6" fill="#4d4d4d" text-anchor="end">0.1</text>
<line x1="428.50" x2="432.3" y1="171.53" y2="171.53" stroke="#333333" stroke-width="1.5"/>
<text x="425.50" y="176.03" font-family="Liberation Sans, sans-serif" font-size="12.6" fill="#4d4d4d" text-anchor="end">0.2</text>
<line x1="428.50" x2="432.3" y1="61.95" y2="61.95" stroke="#333333" stroke-width="1.5"/>
<text x="425.50" y="66.45" font-family="Liberation Sans, sans-serif" font-size="12.6" fill="#4d4d4d" text-anchor="end">0.3</text>
<line x1="450.46" x2="450.46" y1="408.0" y2="411.80" stroke="#333333" stroke-width="1.5"/>
<text transform="translate(459.06,423.70) rotate(-45)" font-family="Liberation Sans, sans-serif" font-size="16.6" fill="#4d4d4d" text-anchor="end">Control.Neg.</text>
<line x1="480.73" x2="480.73" y1="408.0" y2="411.80" stroke="#333333" stroke-width="1.5"/>
<text transform="translate(489.33,423.70) rotate(-45)" font-family="Liberation Sans, sans-serif" font-size="16.6" fill="#4d4d4d" text-anchor="end">SCZ.Neg.</text>
<line x1="511.00" x2="511.00" y1="408.0" y2="411.80" stroke="#333333" stroke-width="1.5"/>
<text transform="translate(519.60,423.70) rotate(-45)" font-family="Liberation Sans, sans-serif" font-size="16.6" fill="#4d4d4d" text-anchor="end">SCZ.Pos.atypical</text>
<line x1="541.27" x2="541.27" y1="408.0" y2="411.80" stroke="#333333" stroke-width="1.5"/>
<text transform="translate(549.87,423.70) rotate(-45)" font-family="Liberation Sans, sans-serif" font-size="16.6" fill="#4d4d4d" text-anchor="end">SCZ.Pos.mixed</text>
<line x1="571.54" x2="571.54" y1="408.0" y2="411.80" stroke="#333333" stroke-width="1.5"/>
<text transform="translate(580.14,423.70) rotate(-45)" font-family="Liberation Sans, sans-serif" font-size="16.6" fill="#4d4d4d" text-anchor="end">SCZ.Pos.typical</text>
<line x1="53.1" x2="205.0" y1="880.57" y2="880.57" stroke="#ebebeb" stroke-width="1.0"/>
<line x1="53.1" x2="205.0" y1="818.91" y2="818.91" stroke="#ebebeb" stroke-width="1.0"/>
<line x1="53.1" x2="205.0" y1="757.25" y2="757.25" stroke="#ebebeb" stroke-width="1.0"/>
<line x1="53.1" x2="205.0" y1="695.59" y2="695.59" stroke="#ebebeb" stroke-width="1.0"/>
<line x1="53.1" x2="205.0" y1="633.93" y2="633.93" stroke="#ebebeb" stroke-width="1.0"/>
<line x1="53.1" x2="205.0" y1="911.40" y2="911.40" stroke="#ebebeb" stroke-width="1.6"/>
<line x1="53.1" x2="205.0" y1="849.74" y2="849.74" stroke="#ebebeb" stroke-width="1.6"/>
<line x1="53.1" x2="205.0" y1="788.08" y2="788.08" stroke="#ebebeb" stroke-width="1.6"/>
<line x1="53.1" x2="205.0" y1="726.42" y2="726.42" stroke="#ebebeb" stroke-width="1.6"/>
<line x1="53.1" x2="205.0" y1="664.76" y2="664.76" stroke="#ebebeb" stroke-width="1.6"/>
<line x1="53.1" x2="205.0" y1="603.10" y2="603.10" stroke="#ebebeb" stroke-width="1.6"/>
<line x1="74.80" x2="74.80" y1="573.6" y2="913.9" stroke="#ebebeb" stroke-width="1.6"/>
<line x1="110.97" x2="110.97" y1="573.6" y2="913.9" stroke="#ebebeb" stroke-width="1.6"/>
<line x1="147.13" x2="147.13" y1="573.6" y2="913.9" stroke="#ebebeb" stroke-width="1.6"/>
<line x1="183.30" x2="183.30" y1="573.6" y2="913.9" stroke="#ebebeb" stroke-width="1.6"/>
<line x1="74.80" x2="74.80" y1="641.7" y2="703.8" stroke="#333333" stroke-width="1.5"/>
<line x1="74.80" x2="74.80" y1="795.5" y2="865.8" stroke="#333333" stroke-width="1.5"/>
<rect x="61.24" y="703.8" width="27.12" height="91.70" fill="#66c2a5" stroke="#333333" stroke-width="1.5"/>
<line x1="61.24" x2="88.36" y1="786.6" y2="786.6" stroke="#333333" stroke-width="2.9"/>
<line x1="110.97" x2="110.97" y1="589.1" y2="684.3" stroke="#333333" stroke-width="1.5"/>
<line x1="110.97" x2="110.97" y1="766.6" y2="829.0" stroke="#333333" stroke-width="1.5"/>
<rect x="97.40" y="684.3" width="27.12" height="82.30" fill="#e78ac3" stroke="#333333" stroke-width="1.5"/>
<line x1="97.40" x2="124.53" y1="747.8" y2="747.8" stroke="#333333" stroke-width="2.9"/>
<line x1="147.13" x2="147.13" y1="702.2" y2="715.6" stroke="#333333" stroke-width="1.5"/>
<line x1="147.13" x2="147.13" y1="762.9" y2="825.0" stroke="#333333" stroke-width="1.5"/>
<rect x="133.57" y="715.6" width="27.12" height="47.30" fill="#8da0cb" stroke="#333333" stroke-width="1.5"/>
<line x1="133.57" x2="160.70" y1="742.4" y2="742.4" stroke="#333333" stroke-width="2.9"/>
<line x1="183.30" x2="183.30" y1="817.0" y2="840.5" stroke="#333333" stroke-width="1.5"/>
<line x1="183.30" x2="183.30" y1="883.1" y2="898.6" stroke="#333333" stroke-width="1.5"/>
<rect x="169.74" y="840.5" width="27.12" height="42.60" fill="#8da0cb" stroke="#333333" stroke-width="1.5"/>
<line x1="169.74" x2="196.86" y1="870.2" y2="870.2" stroke="#333333" stroke-width="2.9"/>
<circle cx="74.1" cy="641.7" r="2.95"/>
<circle cx="77" cy="697.1" r="2.95"/>
<circle cx="77.9" cy="710.9" r="2.95"/>
<circle cx="71.9" cy="787.7" r="2.95"/>
<circle cx="75.2" cy="786.2" r="2.95"/>
<circle cx="74.7" cy="803.2" r="2.95"/>
<circle cx="73" cy="865.8" r="2.95"/>
<circle cx="110.7" cy="589.1" r="2.95"/>
<circle cx="107.4" cy="669" r="2.95"/>
<circle cx="112.9" cy="684.3" r="2.95"/>
<circle cx="111.1" cy="740.9" r="2.95"/>
<circle cx="114" cy="747.8" r="2.95"/>
<circle cx="114" cy="760.4" r="2.95"/>
<circle cx="110.2" cy="766.6" r="2.95"/>
<circle cx="111.1" cy="828.7" r="2.95"/>
<circle cx="114" cy="835" r="2.95"/>
<circle cx="146.2" cy="616.6" r="2.95"/>
<circle cx="147.3" cy="702.2" r="2.95"/>
<circle cx="146.9" cy="712" r="2.95"/>
<circle cx="143.5" cy="727.5" r="2.95"/>
<circle cx="144.6" cy="740.5" r="2.95"/>
<circle cx="150.6" cy="744" r="2.95"/>
<circle cx="150.2" cy="748.9" r="2.95"/>
<circle cx="144" cy="768.4" r="2.95"/>
<circle cx="148" cy="825" r="2.95"/>
<circle cx="146.6" cy="838.1" r="2.95"/>
<circle cx="179.9" cy="696" r="2.95"/>
<circle cx="182.1" cy="817" r="2.95"/>
<circle cx="182.8" cy="863.1" r="2.95"/>
<circle cx="182.8" cy="870.5" r="2.95"/>
<circle cx="181.2" cy="883.8" r="2.95"/>
<circle cx="183.9" cy="882.4" r="2.95"/>
<circle cx="185.7" cy="898.6" r="2.95"/>
<rect x="53.1" y="573.6" width="151.90" height="340.30" fill="none" stroke="#3a3a3a" stroke-width="1.6"/>
<rect x="53.1" y="550.0" width="151.90" height="23.60" fill="#d9d9d9" stroke="#3a3a3a" stroke-width="1.6"/>
<text x="129.05" y="566.90" font-family="Liberation Sans, sans-serif" font-size="12.7" fill="#1a1a1a" text-anchor="middle">ExN</text>
<line x1="49.30" x2="53.1" y1="911.40" y2="911.40" stroke="#333333" stroke-width="1.5"/>
<text x="46.30" y="915.90" font-family="Liberation Sans, sans-serif" font-size="12.6" fill="#4d4d4d" text-anchor="end">0.59</text>
<line x1="49.30" x2="53.1" y1="849.74" y2="849.74" stroke="#333333" stroke-width="1.5"/>
<text x="46.30" y="854.24" font-family="Liberation Sans, sans-serif" font-size="12.6" fill="#4d4d4d" text-anchor="end">0.60</text>
<line x1="49.30" x2="53.1" y1="788.08" y2="788.08" stroke="#333333" stroke-width="1.5"/>
<text x="46.30" y="792.58" font-family="Liberation Sans, sans-serif" font-size="12.6" fill="#4d4d4d" text-anchor="end">0.61</text>
<line x1="49.30" x2="53.1" y1="726.42" y2="726.42" stroke="#333333" stroke-width="1.5"/>
<text x="46.30" y="730.92" font-family="Liberation Sans, sans-serif" font-size="12.6" fill="#4d4d4d" text-anchor="end">0.62</text>
<line x1="49.30" x2="53.1" y1="664.76" y2="664.76" stroke="#333333" stroke-width="1.5"/>
<text x="46.30" y="669.26" font-family="Liberation Sans, sans-serif" font-size="12.6" fill="#4d4d4d" text-anchor="end">0.63</text>
<line x1="49.30" x2="53.1" y1="603.10" y2="603.10" stroke="#333333" stroke-width="1.5"/>
<text x="46.30" y="607.60" font-family="Liberation Sans, sans-serif" font-size="12.6" fill="#4d4d4d" text-anchor="end">0.64</text>
<line x1="74.80" x2="74.80" y1="913.9" y2="917.70" stroke="#333333" stroke-width="1.5"/>
<text transform="translate(83.40,929.60) rotate(-45)" font-family="Liberation Sans, sans-serif" font-size="16.6" fill="#4d4d4d" text-anchor="end">placebo</text>
<line x1="110.97" x2="110.97" y1="913.9" y2="917.70" stroke="#333333" stroke-width="1.5"/>
<text transform="translate(119.57,929.60) rotate(-45)" font-family="Liberation Sans, sans-serif" font-size="16.6" fill="#4d4d4d" text-anchor="end">CLZ</text>
<line x1="147.13" x2="147.13" y1="913.9" y2="917.70" stroke="#333333" stroke-width="1.5"/>
<text transform="translate(155.73,929.60) rotate(-45)" font-family="Liberation Sans, sans-serif" font-size="16.6" fill="#4d4d4d" text-anchor="end">HAL.lo</text>
<line x1="183.30" x2="183.30" y1="913.9" y2="917.70" stroke="#333333" stroke-width="1.5"/>
<text transform="translate(191.90,929.60) rotate(-45)" font-family="Liberation Sans, sans-serif" font-size="16.6" fill="#4d4d4d" text-anchor="end">HAL.hi</text>
<line x1="243.9" x2="395.5" y1="836.90" y2="836.90" stroke="#ebebeb" stroke-width="1.0"/>
<line x1="243.9" x2="395.5" y1="718.50" y2="718.50" stroke="#ebebeb" stroke-width="1.0"/>
<line x1="243.9" x2="395.5" y1="600.10" y2="600.10" stroke="#ebebeb" stroke-width="1.0"/>
<line x1="243.9" x2="395.5" y1="896.10" y2="896.10" stroke="#ebebeb" stroke-width="1.6"/>
<line x1="243.9" x2="395.5" y1="777.70" y2="777.70" stroke="#ebebeb" stroke-width="1.6"/>
<line x1="243.9" x2="395.5" y1="659.30" y2="659.30" stroke="#ebebeb" stroke-width="1.6"/>
<line x1="265.56" x2="265.56" y1="573.6" y2="913.9" stroke="#ebebeb" stroke-width="1.6"/>
<line x1="301.65" x2="301.65" y1="573.6" y2="913.9" stroke="#ebebeb" stroke-width="1.6"/>
<line x1="337.75" x2="337.75" y1="573.6" y2="913.9" stroke="#ebebeb" stroke-width="1.6"/>
<line x1="373.84" x2="373.84" y1="573.6" y2="913.9" stroke="#ebebeb" stroke-width="1.6"/>
<line x1="265.56" x2="265.56" y1="702.0" y2="718.7" stroke="#333333" stroke-width="1.5"/>
<line x1="265.56" x2="265.56" y1="779.3" y2="816.5" stroke="#333333" stroke-width="1.5"/>
<rect x="252.02" y="718.7" width="27.07" height="60.60" fill="#66c2a5" stroke="#333333" stroke-width="1.5"/>
<line x1="252.02" x2="279.09" y1="742.2" y2="742.2" stroke="#333333" stroke-width="2.9"/>
<line x1="301.65" x2="301.65" y1="646.8" y2="679.0" stroke="#333333" stroke-width="1.5"/>
<line x1="301.65" x2="301.65" y1="781.7" y2="851.4" stroke="#333333" stroke-width="1.5"/>
<rect x="288.12" y="679.0" width="27.07" height="102.70" fill="#e78ac3" stroke="#333333" stroke-width="1.5"/>
<line x1="288.12" x2="315.19" y1="749.5" y2="749.5" stroke="#333333" stroke-width="2.9"/>
<line x1="337.75" x2="337.75" y1="667.6" y2="698.3" stroke="#333333" stroke-width="1.5"/>
<line x1="337.75" x2="337.75" y1="819.9" y2="898.2" stroke="#333333" stroke-width="1.5"/>
<rect x="324.21" y="698.3" width="27.07" height="121.60" fill="#8da0cb" stroke="#333333" stroke-width="1.5"/>
<line x1="324.21" x2="351.28" y1="755.5" y2="755.5" stroke="#333333" stroke-width="2.9"/>
<line x1="373.84" x2="373.84" y1="589.1" y2="645.4" stroke="#333333" stroke-width="1.5"/>
<line x1="373.84" x2="373.84" y1="762.2" y2="781.5" stroke="#333333" stroke-width="1.5"/>
<rect x="360.31" y="645.4" width="27.07" height="116.80" fill="#8da0cb" stroke="#333333" stroke-width="1.5"/>
<line x1="360.31" x2="387.38" y1="721.1" y2="721.1" stroke="#333333" stroke-width="2.9"/>
<circle cx="265.5" cy="702" r="2.95"/>
<circle cx="266.9" cy="706.5" r="2.95"/>
<circle cx="268" cy="731.5" r="2.95"/>
<circle cx="268" cy="742" r="2.95"/>
<circle cx="266.9" cy="773.3" r="2.95"/>
<circle cx="264.4" cy="785" r="2.95"/>
<circle cx="268.4" cy="816.5" r="2.95"/>
<circle cx="301.2" cy="646.8" r="2.95"/>
<circle cx="304.4" cy="662.8" r="2.95"/>
<circle cx="298.4" cy="679" r="2.95"/>
<circle cx="302.1" cy="716" r="2.95"/>
<circle cx="299.5" cy="749.5" r="2.95"/>
<circle cx="302.8" cy="751.5" r="2.95"/>
<circle cx="300.6" cy="781.7" r="2.95"/>
<circle cx="303.9" cy="789.3" r="2.95"/>
<circle cx="301.2" cy="851.4" r="2.95"/>
<circle cx="336.7" cy="667.6" r="2.95"/>
<circle cx="339.4" cy="671.6" r="2.95"/>
<circle cx="339.9" cy="697.8" r="2.95"/>
<circle cx="339.9" cy="700" r="2.95"/>
<circle cx="335" cy="752.2" r="2.95"/>
<circle cx="339.4" cy="758.9" r="2.95"/>
<circle cx="334.3" cy="763.3" r="2.95"/>
<circle cx="339.9" cy="839.2" r="2.95"/>
<circle cx="340.1" cy="856" r="2.95"/>
<circle cx="339" cy="898.2" r="2.95"/>
<circle cx="373.1" cy="589.1" r="2.95"/>
<circle cx="372.2" cy="633.5" r="2.95"/>
<circle cx="370.5" cy="657.2" r="2.95"/>
<circle cx="371.1" cy="721.5" r="2.95"/>
<circle cx="374.9" cy="756" r="2.95"/>
<circle cx="374.9" cy="768.4" r="2.95"/>
<circle cx="372" cy="781.5" r="2.95"/>
<rect x="243.9" y="573.6" width="151.60" height="340.30" fill="none" stroke="#3a3a3a" stroke-width="1.6"/>
<rect x="243.9" y="550.0" width="151.60" height="23.60" fill="#d9d9d9" stroke="#3a3a3a" stroke-width="1.6"/>
<text x="319.70" y="566.90" font-family="Liberation Sans, sans-serif" font-size="12.7" fill="#1a1a1a" text-anchor="middle">InN</text>
<line x1="240.10" x2="243.9" y1="896.10" y2="896.10" stroke="#333333" stroke-width="1.5"/>
<text x="237.10" y="900.60" font-family="Liberation Sans, sans-serif" font-size="12.6" fill="#4d4d4d" text-anchor="end">0.23</text>
<line x1="240.10" x2="243.9" y1="777.70" y2="777.70" stroke="#333333" stroke-width="1.5"/>
<text x="237.10" y="782.20" font-family="Liberation Sans, sans-serif" font-size="12.6" fill="#4d4d4d" text-anchor="end">0.24</text>
<line x1="240.10" x2="243.9" y1="659.30" y2="659.30" stroke="#333333" stroke-width="1.5"/>
<text x="237.10" y="663.80" font-family="Liberation Sans, sans-serif" font-size="12.6" fill="#4d4d4d" text-anchor="end">0.25</text>
<line x1="265.56" x2="265.56" y1="913.9" y2="917.70" stroke="#333333" stroke-width="1.5"/>
<text transform="translate(274.16,929.60) rotate(-45)" font-family="Liberation Sans, sans-serif" font-size="16.6" fill="#4d4d4d" text-anchor="end">placebo</text>
<line x1="301.65" x2="301.65" y1="913.9" y2="917.70" stroke="#333333" stroke-width="1.5"/>
<text transform="translate(310.25,929.60) rotate(-45)" font-family="Liberation Sans, sans-serif" font-size="16.6" fill="#4d4d4d" text-anchor="end">CLZ</text>
<line x1="337.75" x2="337.75" y1="913.9" y2="917.70" stroke="#333333" stroke-width="1.5"/>
<text transform="translate(346.35,929.60) rotate(-45)" font-family="Liberation Sans, sans-serif" font-size="16.6" fill="#4d4d4d" text-anchor="end">HAL.lo</text>
<line x1="373.84" x2="373.84" y1="913.9" y2="917.70" stroke="#333333" stroke-width="1.5"/>
<text transform="translate(382.44,929.60) rotate(-45)" font-family="Liberation Sans, sans-serif" font-size="16.6" fill="#4d4d4d" text-anchor="end">HAL.hi</text>
<line x1="434.8" x2="586.4" y1="865.47" y2="865.47" stroke="#ebebeb" stroke-width="1.0"/>
<line x1="434.8" x2="586.4" y1="775.60" y2="775.60" stroke="#ebebeb" stroke-width="1.0"/>
<line x1="434.8" x2="586.4" y1="685.73" y2="685.73" stroke="#ebebeb" stroke-width="1.0"/>
<line x1="434.8" x2="586.4" y1="595.87" y2="595.87" stroke="#ebebeb" stroke-width="1.0"/>
<line x1="434.8" x2="586.4" y1="910.40" y2="910.40" stroke="#ebebeb" stroke-width="1.6"/>
<line x1="434.8" x2="586.4" y1="820.53" y2="820.53" stroke="#ebebeb" stroke-width="1.6"/>
<line x1="434.8" x2="586.4" y1="730.67" y2="730.67" stroke="#ebebeb" stroke-width="1.6"/>
<line x1="434.8" x2="586.4" y1="640.80" y2="640.80" stroke="#ebebeb" stroke-width="1.6"/>
<line x1="456.46" x2="456.46" y1="573.6" y2="913.9" stroke="#ebebeb" stroke-width="1.6"/>
<line x1="492.55" x2="492.55" y1="573.6" y2="913.9" stroke="#ebebeb" stroke-width="1.6"/>
<line x1="528.65" x2="528.65" y1="573.6" y2="913.9" stroke="#ebebeb" stroke-width="1.6"/>
<line x1="564.74" x2="564.74" y1="573.6" y2="913.9" stroke="#ebebeb" stroke-width="1.6"/>
<line x1="456.46" x2="456.46" y1="703.1" y2="755.1" stroke="#333333" stroke-width="1.5"/>
<line x1="456.46" x2="456.46" y1="812.1" y2="822.8" stroke="#333333" stroke-width="1.5"/>
<rect x="442.92" y="755.1" width="27.07" height="57.00" fill="#66c2a5" stroke="#333333" stroke-width="1.5"/>
<line x1="442.92" x2="469.99" y1="776.2" y2="776.2" stroke="#333333" stroke-width="2.9"/>
<line x1="492.55" x2="492.55" y1="716.4" y2="738.6" stroke="#333333" stroke-width="1.5"/>
<line x1="492.55" x2="492.55" y1="796.1" y2="858.3" stroke="#333333" stroke-width="1.5"/>
<rect x="479.02" y="738.6" width="27.07" height="57.50" fill="#e78ac3" stroke="#333333" stroke-width="1.5"/>
<line x1="479.02" x2="506.09" y1="759.3" y2="759.3" stroke="#333333" stroke-width="2.9"/>
<line x1="528.65" x2="528.65" y1="589.1" y2="676.1" stroke="#333333" stroke-width="1.5"/>
<line x1="528.65" x2="528.65" y1="779.9" y2="806.6" stroke="#333333" stroke-width="1.5"/>
<rect x="515.11" y="676.1" width="27.07" height="103.80" fill="#8da0cb" stroke="#333333" stroke-width="1.5"/>
<line x1="515.11" x2="542.18" y1="720.4" y2="720.4" stroke="#333333" stroke-width="2.9"/>
<line x1="564.74" x2="564.74" y1="753.8" y2="758.2" stroke="#333333" stroke-width="1.5"/>
<line x1="564.74" x2="564.74" y1="789.3" y2="832.5" stroke="#333333" stroke-width="1.5"/>
<rect x="551.21" y="758.2" width="27.07" height="31.10" fill="#8da0cb" stroke="#333333" stroke-width="1.5"/>
<line x1="551.21" x2="578.28" y1="767.1" y2="767.1" stroke="#333333" stroke-width="2.9"/>
<circle cx="459.4" cy="703.1" r="2.95"/>
<circle cx="459" cy="745.5" r="2.95"/>
<circle cx="455" cy="763.3" r="2.95"/>
<circle cx="455" cy="776.6" r="2.95"/>
<circle cx="455.4" cy="802.1" r="2.95"/>
<circle cx="455.6" cy="822.8" r="2.95"/>
<circle cx="458.3" cy="898.2" r="2.95"/>
<circle cx="492" cy="716.4" r="2.95"/>
<circle cx="489.4" cy="723.1" r="2.95"/>
<circle cx="494.5" cy="739.3" r="2.95"/>
<circle cx="491.1" cy="753.3" r="2.95"/>
<circle cx="488.7" cy="759.3" r="2.95"/>
<circle cx="493.1" cy="779.5" r="2.95"/>
<circle cx="491.1" cy="796.1" r="2.95"/>
<circle cx="491.1" cy="824.8" r="2.95"/>
<circle cx="493.4" cy="858.3" r="2.95"/>
<circle cx="527.1" cy="589.1" r="2.95"/>
<circle cx="530.9" cy="615.7" r="2.95"/>
<circle cx="529.3" cy="671" r="2.95"/>
<circle cx="531.5" cy="690.9" r="2.95"/>
<circle cx="531.1" cy="695.4" r="2.95"/>
<circle cx="526.5" cy="745.2" r="2.95"/>
<circle cx="527.1" cy="780.6" r="2.95"/>
<circle cx="530.9" cy="778.8" r="2.95"/>
<circle cx="527.7" cy="792.6" r="2.95"/>
<circle cx="528.2" cy="806.6" r="2.95"/>
<circle cx="562.6" cy="625.7" r="2.95"/>
<circle cx="566.6" cy="753.8" r="2.95"/>
<circle cx="561.5" cy="762.6" r="2.95"/>
<circle cx="565.9" cy="767.1" r="2.95"/>
<circle cx="564.8" cy="775.5" r="2.95"/>
<circle cx="561.9" cy="803.7" r="2.95"/>
<circle cx="565.2" cy="832.5" r="2.95"/>
<rect x="434.8" y="573.6" width="151.60" height="340.30" fill="none" stroke="#3a3a3a" stroke-width="1.6"/>
<rect x="434.8" y="550.0" width="151.60" height="23.60" fill="#d9d9d9" stroke="#3a3a3a" stroke-width="1.6"/>
<text x="510.60" y="566.90" font-family="Liberation Sans, sans-serif" font-size="12.7" fill="#1a1a1a" text-anchor="middle">Astro</text>
<line x1="431.00" x2="434.8" y1="910.40" y2="910.40" stroke="#333333" stroke-width="1.5"/>
<text x="428.00" y="914.90" font-family="Liberation Sans, sans-serif" font-size="12.6" fill="#4d4d4d" text-anchor="end">0.04</text>
<line x1="431.00" x2="434.8" y1="820.53" y2="820.53" stroke="#333333" stroke-width="1.5"/>
<text x="428.00" y="825.03" font-family="Liberation Sans, sans-serif" font-size="12.6" fill="#4d4d4d" text-anchor="end">0.05</text>
<line x1="431.00" x2="434.8" y1="730.67" y2="730.67" stroke="#333333" stroke-width="1.5"/>
<text x="428.00" y="735.17" font-family="Liberation Sans, sans-serif" font-size="12.6" fill="#4d4d4d" text-anchor="end">0.06</text>
<line x1="431.00" x2="434.8" y1="640.80" y2="640.80" stroke="#333333" stroke-width="1.5"/>
<text x="428.00" y="645.30" font-family="Liberation Sans, sans-serif" font-size="12.6" fill="#4d4d4d" text-anchor="end">0.07</text>
<line x1="456.46" x2="456.46" y1="913.9" y2="917.70" stroke="#333333" stroke-width="1.5"/>
<text transform="translate(465.06,929.60) rotate(-45)" font-family="Liberation Sans, sans-serif" font-size="16.6" fill="#4d4d4d" text-anchor="end">placebo</text>
<line x1="492.55" x2="492.55" y1="913.9" y2="917.70" stroke="#333333" stroke-width="1.5"/>
<text transform="translate(501.15,929.60) rotate(-45)" font-family="Liberation Sans, sans-serif" font-size="16.6" fill="#4d4d4d" text-anchor="end">CLZ</text>
<line x1="528.65" x2="528.65" y1="913.9" y2="917.70" stroke="#333333" stroke-width="1.5"/>
<text transform="translate(537.25,929.60) rotate(-45)" font-family="Liberation Sans, sans-serif" font-size="16.6" fill="#4d4d4d" text-anchor="end">HAL.lo</text>
<line x1="564.74" x2="564.74" y1="913.9" y2="917.70" stroke="#333333" stroke-width="1.5"/>
<text transform="translate(573.34,929.60) rotate(-45)" font-family="Liberation Sans, sans-serif" font-size="16.6" fill="#4d4d4d" text-anchor="end">HAL.hi</text>
<text transform="translate(14.9,216.5) rotate(-90)" font-family="Liberation Sans, sans-serif" font-size="15.5" fill="#000" text-anchor="middle">Estimated cell type proportion</text>
<text transform="translate(14.9,743.8) rotate(-90)" font-family="Liberation Sans, sans-serif" font-size="15.5" fill="#000" text-anchor="middle">Estimated cell type proportion</text>
<text x="2.6" y="21.0" font-family="Liberation Sans, sans-serif" font-size="26.8" font-weight="bold" fill="#000">a</text>
<text x="3" y="570.0" font-family="Liberation Sans, sans-serif" font-size="26.8" font-weight="bold" fill="#000">b</text>
<text x="613.5" y="194.3" font-family="Liberation Sans, sans-serif" font-size="15.7" fill="#000">Dx</text>
<line x1="625" x2="625" y1="205.20" y2="225.60" stroke="#333333" stroke-width="1.5"/>
<rect x="615.80" y="209.20" width="18.4" height="12.4" fill="#66c2a5" stroke="#333333" stroke-width="1.5"/>
<line x1="615.80" x2="634.20" y1="215.40" y2="215.40" stroke="#333333" stroke-width="2.1"/>
<circle cx="625" cy="215.40" r="2.95"/>
<text x="644.6" y="219.90" font-family="Liberation Sans, sans-serif" font-size="12.6" fill="#000">Control</text>
<line x1="625" x2="625" y1="229.40" y2="249.80" stroke="#333333" stroke-width="1.5"/>
<rect x="615.80" y="233.40" width="18.4" height="12.4" fill="#fc8d62" stroke="#333333" stroke-width="1.5"/>
<line x1="615.80" x2="634.20" y1="239.60" y2="239.60" stroke="#333333" stroke-width="2.1"/>
<circle cx="625" cy="239.60" r="2.95"/>
<text x="644.6" y="244.10" font-family="Liberation Sans, sans-serif" font-size="12.6" fill="#000">SCZ</text>
<text x="609.8" y="697.4" font-family="Liberation Sans, sans-serif" font-size="15.7" fill="#000">APD</text>
<line x1="621.6" x2="621.6" y1="708.70" y2="729.10" stroke="#333333" stroke-width="1.5"/>
<rect x="612.40" y="712.70" width="18.4" height="12.4" fill="#66c2a5" stroke="#333333" stroke-width="1.5"/>
<line x1="612.40" x2="630.80" y1="718.90" y2="718.90" stroke="#333333" stroke-width="2.1"/>
<circle cx="621.6" cy="718.90" r="2.95"/>
<text x="641.3" y="723.40" font-family="Liberation Sans, sans-serif" font-size="12.6" fill="#000">placebo</text>
<line x1="621.6" x2="621.6" y1="732.80" y2="753.20" stroke="#333333" stroke-width="1.5"/>
<rect x="612.40" y="736.80" width="18.4" height="12.4" fill="#e78ac3" stroke="#333333" stroke-width="1.5"/>
<line x1="612.40" x2="630.80" y1="743.00" y2="743.00" stroke="#333333" stroke-width="2.1"/>
<circle cx="621.6" cy="743.00" r="2.95"/>
<text x="641.3" y="747.50" font-family="Liberation Sans, sans-serif" font-size="12.6" fill="#000">CLZ</text>
<line x1="621.6" x2="621.6" y1="756.90" y2="777.30" stroke="#333333" stroke-width="1.5"/>
<rect x="612.40" y="760.90" width="18.4" height="12.4" fill="#8da0cb" stroke="#333333" stroke-width="1.5"/>
<line x1="612.40" x2="630.80" y1="767.10" y2="767.10" stroke="#333333" stroke-width="2.1"/>
<circle cx="621.6" cy="767.10" r="2.95"/>
<text x="641.3" y="771.60" font-family="Liberation Sans, sans-serif" font-size="12.6" fill="#000">HAL.lo</text>
<line x1="621.6" x2="621.6" y1="781.00" y2="801.40" stroke="#333333" stroke-width="1.5"/>
<rect x="612.40" y="785.00" width="18.4" height="12.4" fill="#8da0cb" stroke="#333333" stroke-width="1.5"/>
<line x1="612.40" x2="630.80" y1="791.20" y2="791.20" stroke="#333333" stroke-width="2.1"/>
<circle cx="621.6" cy="791.20" r="2.95"/>
<text x="641.3" y="795.70" font-family="Liberation Sans, sans-serif" font-size="12.6" fill="#000">HAL.hi</text>
</svg></body></html>
